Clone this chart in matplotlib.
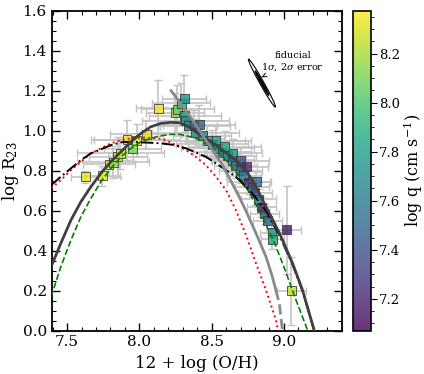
import numpy as np
import matplotlib
matplotlib.use("Agg")
import matplotlib.pyplot as plt
from matplotlib.patches import Ellipse
from matplotlib.transforms import ScaledTranslation

plt.rcParams['font.family'] = ['DejaVu Serif']
plt.rcParams['mathtext.fontset'] = 'dejavuserif'

# measured points: metallicity, log R23, log q
oh = [7.626, 7.744, 7.79, 7.82, 7.85, 7.868, 7.914, 7.953, 7.983, 8.047,
      8.13, 8.247, 8.263, 8.29, 8.31, 8.314, 8.32, 8.34, 8.378, 8.39,
      8.415, 8.436, 8.47, 8.505, 8.53, 8.54, 8.574, 8.59, 8.61, 8.643,
      8.648, 8.666, 8.70, 8.70, 8.72, 8.74, 8.757, 8.78, 8.80, 8.81,
      8.826, 8.845, 8.867, 8.884, 8.918, 8.92, 9.02, 9.05]
r23 = [0.77, 0.775, 0.833, 0.843, 0.87, 0.888, 0.955, 0.91, 0.953, 0.983,
       1.113, 1.09, 1.108, 1.137, 1.16, 1.075, 1.05, 1.025, 1.025, 0.99,
       1.03, 0.975, 0.95, 0.933, 0.95, 0.913, 0.892, 0.92, 0.875, 0.853,
       0.887, 0.825, 0.80, 0.85, 0.775, 0.82, 0.742, 0.717, 0.69, 0.745,
       0.658, 0.617, 0.583, 0.55, 0.49, 0.457, 0.505, 0.20]
logq = [8.33, 8.33, 8.30, 8.15, 8.28, 8.30, 8.35, 8.12, 8.33, 8.30,
        8.35, 8.15, 8.08, 7.95, 7.75, 7.80, 7.72, 7.70, 7.45, 7.68,
        7.50, 7.62, 7.70, 7.65, 7.80, 7.75, 7.60, 7.85, 7.72, 7.50,
        7.78, 7.55, 7.45, 7.40, 7.62, 7.20, 7.15, 7.40, 7.35, 7.50,
        7.62, 7.15, 7.38, 7.45, 7.70, 7.85, 7.15, 8.25]
oh_err = [0.10, 0.12, 0.18, 0.25, 0.20, 0.30, 0.25, 0.20, 0.30, 0.25,
          0.15, 0.20, 0.25, 0.20, 0.15, 0.25, 0.30, 0.20, 0.25, 0.30,
          0.25, 0.20, 0.30, 0.25, 0.20, 0.25, 0.20, 0.25, 0.20, 0.15,
          0.20, 0.15, 0.15, 0.20, 0.12, 0.15, 0.15, 0.12, 0.12, 0.10,
          0.12, 0.10, 0.10, 0.10, 0.08, 0.08, 0.10, 0.10]
r23_err = [0.03, 0.05, 0.06, 0.08, 0.10, 0.08, 0.10, 0.06, 0.08, 0.07,
           0.14, 0.10, 0.12, 0.10, 0.12, 0.08, 0.10, 0.08, 0.08, 0.07,
           0.10, 0.06, 0.08, 0.07, 0.08, 0.06, 0.07, 0.08, 0.06, 0.06,
           0.07, 0.06, 0.06, 0.07, 0.05, 0.06, 0.06, 0.05, 0.06, 0.05,
           0.05, 0.05, 0.05, 0.06, 0.05, 0.05, 0.22, 0.17]

# calibration curves
dark_x = [7.39, 7.457, 7.527, 7.596, 7.665, 7.734, 7.803, 7.873, 7.942, 8.011,
          8.08, 8.15, 8.22, 8.28, 8.34, 8.39, 8.46, 8.53, 8.59, 8.668,
          8.737, 8.80, 8.876, 8.97, 9.06, 9.13, 9.21]
dark_y = [0.32, 0.437, 0.553, 0.645, 0.72, 0.787, 0.845, 0.895, 0.945, 0.987,
          1.02, 1.037, 1.042, 1.04, 1.02, 0.995, 0.962, 0.928, 0.895, 0.853,
          0.803, 0.73, 0.62, 0.487, 0.337, 0.2, 0.0]
dd_x = [7.39, 7.457, 7.527, 7.596, 7.665, 7.734, 7.803, 7.873, 7.94, 8.011,
        8.08, 8.15, 8.253, 8.322, 8.39, 8.46, 8.53, 8.60, 8.668, 8.737,
        8.80, 8.876, 8.97, 9.06, 9.13, 9.21]
dd_y = [0.728, 0.77, 0.812, 0.853, 0.887, 0.907, 0.928, 0.942, 0.945, 0.942,
        0.94, 0.937, 0.928, 0.912, 0.892, 0.87, 0.837, 0.803, 0.77, 0.72,
        0.67, 0.60, 0.475, 0.33, 0.195, 0.0]
red_x = [7.39, 7.457, 7.527, 7.596, 7.665, 7.734, 7.803, 7.873, 7.942, 8.01,
         8.08, 8.15, 8.184, 8.253, 8.322, 8.39, 8.46, 8.53, 8.60, 8.668,
         8.737, 8.807, 8.876, 8.945, 8.96]
red_y = [0.712, 0.753, 0.803, 0.845, 0.887, 0.912, 0.937, 0.953, 0.962, 0.966,
         0.964, 0.96, 0.953, 0.928, 0.903, 0.87, 0.828, 0.77, 0.703, 0.603,
         0.48, 0.337, 0.203, 0.053, 0.0]
green_x = [7.39, 7.457, 7.527, 7.596, 7.665, 7.734, 7.803, 7.873, 7.942, 8.011,
           8.08, 8.15, 8.22, 8.28, 8.34, 8.39, 8.46, 8.53, 8.60, 8.668,
           8.737, 8.80, 8.87, 8.94, 9.01, 9.08, 9.165]
green_y = [0.17, 0.32, 0.453, 0.57, 0.662, 0.745, 0.812, 0.87, 0.912, 0.945,
           0.962, 0.975, 0.982, 0.982, 0.972, 0.962, 0.937, 0.903, 0.853, 0.795,
           0.72, 0.64, 0.54, 0.43, 0.30, 0.16, 0.0]
gray_x = [8.22, 8.345, 8.46, 8.576, 8.69, 8.74, 8.807, 8.876, 8.92, 8.944]
gray_y = [1.2, 1.078, 0.953, 0.828, 0.67, 0.595, 0.487, 0.37, 0.27, 0.203]
gray_dash_x = [8.944, 8.968, 8.99]
gray_dash_y = [0.203, 0.137, 0.0]

fig = plt.figure(figsize=(4.24, 3.74), dpi=100)
ax = fig.add_axes([0.122, 0.116, 0.685, 0.855])
cax = fig.add_axes([0.8325, 0.116, 0.0425, 0.855])

ax.errorbar(oh, r23, xerr=oh_err, yerr=r23_err, fmt='none', ecolor='#c4c4c4',
            elinewidth=1.2, capsize=3, capthick=1.0, zorder=1)
sc = ax.scatter(oh, r23, c=logq, cmap='viridis', vmin=7.07, vmax=8.375, marker='s',
                s=40, edgecolors='#333333', linewidths=0.7, alpha=0.8, zorder=2)

ax.plot(red_x, red_y, color='red', ls=':', lw=1.4, zorder=3)
ax.plot(green_x, green_y, color='green', ls='--', lw=1.2, zorder=3)
ax.plot(dd_x, dd_y, color='black', ls='-.', lw=1.4, zorder=3)
ax.plot(dark_x, dark_y, color='#404040', ls='-', lw=2.0, zorder=3)
ax.plot(gray_x, gray_y, color='#8a8a8a', ls='-', lw=2.0, zorder=3)
ax.plot(gray_dash_x, gray_dash_y, color='#8a8a8a', ls='--', lw=2.0, zorder=3)

# fiducial error ellipses
ex, ey = 8.848, 1.2385
tr = fig.dpi_scale_trans + ScaledTranslation(ex, ey, ax.transData)
ax.add_patch(Ellipse((0, 0), 0.55, 0.04, angle=-60.7, transform=tr,
                     facecolor='white', edgecolor='black', lw=0.8, zorder=4))
ax.add_patch(Ellipse((0, 0), 0.28, 0.02, angle=-60.7, transform=tr,
                     facecolor='black', edgecolor='black', lw=0.8, zorder=5))
ax.annotate('fiducial\n$1\\sigma$, $2\\sigma$ error', xy=(8.83, 1.262), xytext=(9.06, 1.345),
            fontsize=7, ha='center', va='center',
            arrowprops=dict(arrowstyle='->', color='black', lw=0.7))

ax.set_xlim(7.394, 9.403)
ax.set_ylim(0.0, 1.6)
ax.set_xticks([7.5, 8.0, 8.5, 9.0])
ax.set_yticks(np.arange(0, 1.61, 0.2))
ax.minorticks_on()
ax.tick_params(which='both', direction='in', top=True, right=True, labelsize=11)
ax.tick_params(which='major', length=6, width=1)
ax.tick_params(which='minor', length=3, width=0.8)
for s in ax.spines.values():
    s.set_linewidth(1.3)
ax.set_xlabel('12 + log (O/H)', fontsize=12)
ax.set_ylabel('log R$_{23}$', fontsize=12, labelpad=1)

cb = fig.colorbar(sc, cax=cax)
cb.set_ticks([7.2, 7.4, 7.6, 7.8, 8.0, 8.2])
cb.ax.minorticks_on()
cb.ax.tick_params(which='both', labelsize=9.5, pad=2)
cb.ax.tick_params(which='major', length=4)
cb.ax.tick_params(which='minor', length=2)
cb.outline.set_linewidth(1.2)
cb.set_label('log q (cm s$^{-1}$)', fontsize=11.5, labelpad=1)

fig.savefig('out.png', dpi=100)
